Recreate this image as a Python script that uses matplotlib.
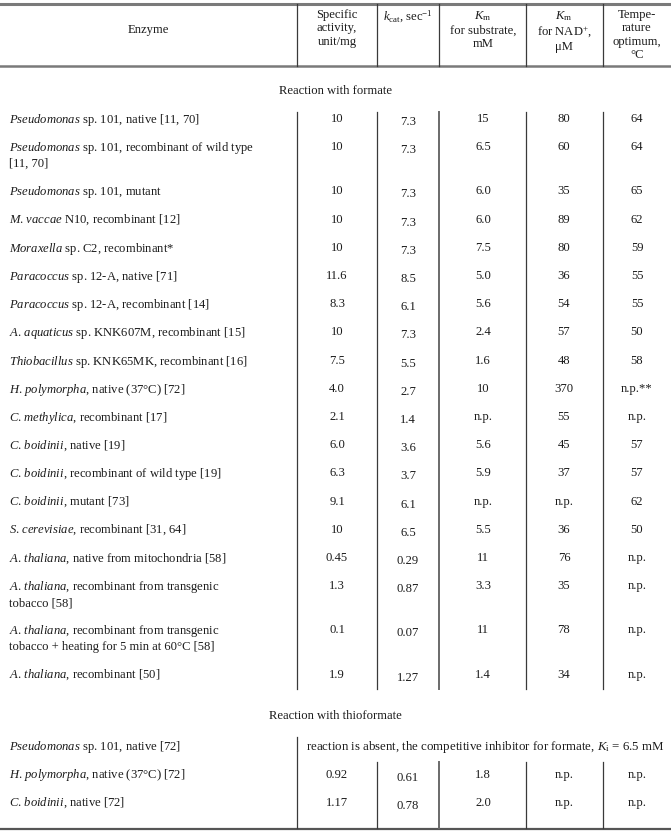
import matplotlib
matplotlib.use('Agg')
import matplotlib.pyplot as plt

plt.rcParams['font.family'] = ['Liberation Serif', 'DejaVu Serif']
plt.rcParams['mathtext.fontset'] = 'custom'
plt.rcParams['mathtext.rm'] = 'Liberation Serif'
plt.rcParams['mathtext.it'] = 'Liberation Serif:italic'
plt.rcParams['mathtext.bf'] = 'Liberation Serif:bold'

# ---------------------------------------------------

headers = ['Specific\nactivity,\nunit/mg',
           r'$k_\mathrm{cat}$, sec$^{-1}$',
           '$K_\\mathrm{m}$\nfor substrate,\nmM',
           '$K_\\mathrm{m}$\nfor NAD$^{+}$,\n\u03bcM',
           'Tempe-\nrature\noptimum,\n\u00b0C']

# genus abbreviations keep the dot outside mathtext (mathtext pads after '.')
formate_enzymes = [
    r'$\it{Pseudomonas}$ sp. 101, native [11, 70]',
    '$\\it{Pseudomonas}$ sp. 101, recombinant of wild type\n[11, 70]',
    r'$\it{Pseudomonas}$ sp. 101, mutant',
    r'$\it{M}$. $\it{vaccae}$ N10, recombinant [12]',
    r'$\it{Moraxella}$ sp. C2, recombinant*',
    r'$\it{Paracoccus}$ sp. 12-A, native [71]',
    r'$\it{Paracoccus}$ sp. 12-A, recombinant [14]',
    r'$\it{A}$. $\it{aquaticus}$ sp. KNK607M, recombinant [15]',
    r'$\it{Thiobacillus}$ sp. KNK65MK, recombinant [16]',
    r'$\it{H}$. $\it{polymorpha}$, native (37°C) [72]',
    r'$\it{C}$. $\it{methylica}$, recombinant [17]',
    r'$\it{C}$. $\it{boidinii}$, native [19]',
    r'$\it{C}$. $\it{boidinii}$, recombinant of wild type [19]',
    r'$\it{C}$. $\it{boidinii}$, mutant [73]',
    r'$\it{S}$. $\it{cerevisiae}$, recombinant [31, 64]',
    r'$\it{A}$. $\it{thaliana}$, native from mitochondria [58]',
    '$\\it{A}$. $\\it{thaliana}$, recombinant from transgenic\ntobacco [58]',
    '$\\it{A}$. $\\it{thaliana}$, recombinant from transgenic\ntobacco + heating for 5 min at 60°C [58]',
    r'$\it{A}$. $\it{thaliana}$, recombinant [50]',
]
formate_spec_act = ['10', '10', '10', '10', '10', '11.6', '8.3', '10', '7.5', '4.0',
                    '2.1', '6.0', '6.3', '9.1', '10', '0.45', '1.3', '0.1', '1.9']
formate_kcat = ['7.3', '7.3', '7.3', '7.3', '7.3', '8.5', '6.1', '7.3', '5.5', '2.7',
                '1.4', '3.6', '3.7', '6.1', '6.5', '0.29', '0.87', '0.07', '1.27']
formate_km_sub = ['15', '6.5', '6.0', '6.0', '7.5', '5.0', '5.6', '2.4', '1.6', '10',
                  'n.p.', '5.6', '5.9', 'n.p.', '5.5', '11', '3.3', '11', '1.4']
formate_km_nad = ['80', '60', '35', '89', '80', '36', '54', '57', '48', '370',
                  '55', '45', '37', 'n.p.', '36', '76', '35', '78', '34']
formate_temp = ['64', '64', '65', '62', '59', '55', '55', '50', '58', 'n.p.**',
                'n.p.', '57', '57', '62', '50', 'n.p.', 'n.p.', 'n.p.', 'n.p.']

thio_enzymes = [
    r'$\it{H}$. $\it{polymorpha}$, native (37°C) [72]',
    r'$\it{C}$. $\it{boidinii}$, native [72]',
]
thio_spec_act = ['0.92', '1.17']
thio_kcat = ['0.61', '0.78']
thio_km_sub = ['1.8', '2.0']
thio_km_nad = ['n.p.', 'n.p.']
thio_temp = ['n.p.', 'n.p.']
thio_absent_enzyme = r'$\it{Pseudomonas}$ sp. 101, native [72]'
thio_absent_note = r'reaction is absent, the competitive inhibitor for formate, $K_\mathrm{i}$ = 6.5 mM'

# ---------------------------------------------------

W, H = 671, 831
fig = plt.figure(figsize=(W / 100, H / 100), dpi=100)
ax = fig.add_axes([0, 0, 1, 1])
ax.set_xlim(0, W)
ax.set_ylim(H, 0)
ax.axis('off')

tc = '#1c1c1c'
fs = 9.1
seps = [297, 377, 439, 526, 603]
centers = [337, 408, 483, 564, 637]

# rules
ax.plot([0, W], [4, 4], color='#7a7a7a', lw=2.2)
ax.plot([0, W], [66, 66], color='#7a7a7a', lw=1.8)
ax.plot([0, W], [828.5, 828.5], color='#555555', lw=1.6)

# header
for xs in seps:
    ax.plot([xs, xs], [4, 66], color='#3a3a3a', lw=0.9)
ax.text(148, 30, 'Enzyme', ha='center', va='center', fontsize=fs, color=tc)
for cx, h in zip(centers, headers):
    ax.text(cx, 9, h, ha='center', va='top', fontsize=fs, color=tc, linespacing=1.16)

ax.text(W / 2, 91, 'Reaction with formate', ha='center', va='center', fontsize=fs, color=tc)

# formate rows
y = 119
step = 28.2
extra = 16
for i, name in enumerate(formate_enzymes):
    ax.text(9, y - 7, name, ha='left', va='top', fontsize=fs, color=tc, linespacing=1.22)
    vals = [formate_spec_act[i], formate_kcat[i], formate_km_sub[i], formate_km_nad[i], formate_temp[i]]
    for j, (cx, v) in enumerate(zip(centers, vals)):
        dy = 3 if j == 1 else 0
        ax.text(cx, y + dy, v, ha='center', va='center', fontsize=fs, color=tc)
    nlines = name.count('\n') + 1
    y += step + extra * (nlines - 1)

for k, xs in enumerate(seps):
    ax.plot([xs, xs], [112, 689], color='#3a3a3a' if k != 2 else '#6a6a6a', lw=0.9 if k != 2 else 1.4)

# thioformate section
ax.text(W / 2, 716, 'Reaction with thioformate', ha='center', va='center', fontsize=fs, color=tc)
ax.text(9, 747, thio_absent_enzyme, ha='left', va='center', fontsize=fs, color=tc)
ax.text(485, 747, thio_absent_note, ha='center', va='center', fontsize=fs + 0.2, color=tc)
y = 775
for i, name in enumerate(thio_enzymes):
    ax.text(9, y, name, ha='left', va='center', fontsize=fs, color=tc)
    vals = [thio_spec_act[i], thio_kcat[i], thio_km_sub[i], thio_km_nad[i], thio_temp[i]]
    for j, (cx, v) in enumerate(zip(centers, vals)):
        dy = 3 if j == 1 else 0
        ax.text(cx, y + dy, v, ha='center', va='center', fontsize=fs, color=tc)
    y += 28

ax.plot([seps[0], seps[0]], [737, 828], color='#3a3a3a', lw=0.9)
for k, xs in enumerate(seps[1:]):
    ax.plot([xs, xs], [762, 828], color='#3a3a3a' if k != 1 else '#6a6a6a', lw=0.9 if k != 1 else 1.4)

fig.savefig('out.png', dpi=100, facecolor='white')
